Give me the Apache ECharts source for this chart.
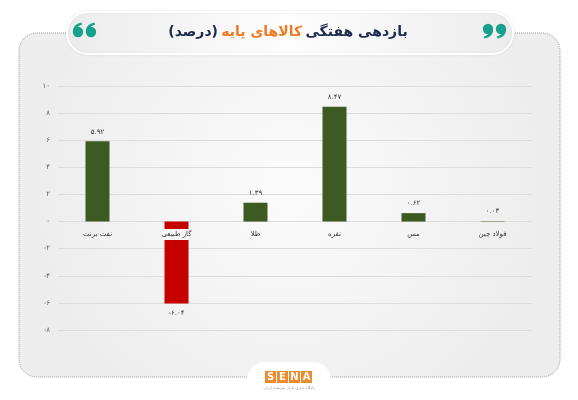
<!DOCTYPE html>
<html>
<head>
<meta charset="utf-8">
<script src="https://cdn.jsdelivr.net/npm/echarts@6/dist/echarts.min.js"></script>
<style>
html,body{margin:0;padding:0;background:#ffffff;}
#chart{width:578px;height:400px;}
</style>
</head>
<body>
<div id="chart"></div>
<script>
var categories = ['نفت برنت', 'گاز طبیعی', 'طلا', 'نقره', 'مس', 'فولاد چین'];
var values = [5.92, -6.04, 1.39, 8.47, 0.62, 0.03];
var yTicks = [-8, -6, -4, -2, 0, 2, 4, 6, 8, 10];

function fa(s) {
  return String(s).replace(/[0-9]/g, function (d) { return '۰۱۲۳۴۵۶۷۸۹'[+d]; });
}
var FONT = 'DejaVu Sans';
var TEAL = '#17a08b';
var chart = echarts.init(document.getElementById('chart'));

var seriesData = values.map(function (v) {
  return {
    value: v,
    itemStyle: { color: v < 0 ? '#c40000' : '#3c5a22' },
    label: { position: v < 0 ? 'bottom' : 'top' }
  };
});
var nameData = categories.map(function (c, i) {
  return {
    value: [c, 0],
    label: values[i] < 0
      ? { backgroundColor: '#f6f6f6', padding: [2, 1, 2, 1], distance: 7, opacity: 1 }
      : {}
  };
});

function quad(p0, p1, p2, n) {
  var pts = [];
  for (var i = 0; i <= n; i++) {
    var t = i / n, a = (1 - t) * (1 - t), b = 2 * (1 - t) * t, c = t * t;
    pts.push([a * p0[0] + b * p1[0] + c * p2[0], a * p0[1] + b * p1[1] + c * p2[1]]);
  }
  return pts;
}
function quoteMark(cx, cy, up) {
  var s = up ? 1 : -1;
  var outer = quad([-5 * s, 0], [-5.6 * s, -7.5 * s], [3.5 * s, -9.5 * s], 10);
  var inner = quad([4 * s, -7.3 * s], [-0.5 * s, -6 * s], [-0.3 * s, -4.6 * s], 8);
  var pts = outer.concat(inner).map(function (p) { return [p[0] + cx, p[1] + cy]; });
  return [
    { type: 'circle', z: 12, silent: true, shape: { cx: cx, cy: cy, r: 5.2 }, style: { fill: TEAL } },
    { type: 'polygon', z: 12, silent: true, shape: { points: pts }, style: { fill: TEAL } }
  ];
}

var graphics = [
  {
    type: 'rect', z: -10, silent: true,
    shape: { x: 19, y: 33, width: 541, height: 344, r: 18 },
    style: {
      fill: { type: 'radial', x: 0.5, y: 0.45, r: 0.75,
        colorStops: [{ offset: 0, color: '#fbfbfb' }, { offset: 1, color: '#ededed' }] },
      stroke: '#9a9a9a', lineWidth: 1, lineDash: [1, 1]
    }
  },
  {
    type: 'rect', z: 10, silent: true,
    shape: { x: 67, y: 12, width: 446, height: 42, r: 21 },
    style: {
      fill: { type: 'linear', x: 0, y: 0, x2: 1, y2: 0,
        colorStops: [{ offset: 0, color: '#ececec' }, { offset: 0.5, color: '#fdfdfd' }, { offset: 1, color: '#ececec' }] },
      stroke: '#ffffff', lineWidth: 2,
      shadowBlur: 3, shadowColor: 'rgba(0,0,0,0.08)'
    }
  },
  {
    type: 'text', z: 11, silent: true,
    style: {
      text: '{n|(درصد)} {o|کالاهای پایه} {n|بازدهی هفتگی}',
      x: 288, y: 32, align: 'center', verticalAlign: 'middle',
      rich: {
        n: { fontFamily: FONT, fontWeight: 'bold', fontSize: 14, fill: '#1d2a4d' },
        o: { fontFamily: FONT, fontWeight: 'bold', fontSize: 14, fill: '#f07a24' }
      }
    }
  },
  {
    type: 'rect', z: 10, silent: true,
    shape: { x: 247, y: 362, width: 84, height: 42, r: 18 },
    style: { fill: '#ffffff' }
  },
  {
    type: 'text', z: 12, silent: true,
    style: { text: 'پایگاه خبری بازار سرمایه ایران', x: 289, y: 388, align: 'center', verticalAlign: 'middle', fill: '#9a9a9a', font: '4px "DejaVu Sans"' }
  }
];
graphics = graphics
  .concat(quoteMark(78, 32, true)).concat(quoteMark(91, 32, true))
  .concat(quoteMark(488, 29, false)).concat(quoteMark(501, 29, false));
['S', 'E', 'N', 'A'].forEach(function (ch, i) {
  graphics.push({ type: 'rect', z: 12, silent: true, shape: { x: 265 + i * 12, y: 371, width: 11, height: 12 }, style: { fill: '#ee8a2c' } });
  graphics.push({ type: 'text', z: 13, silent: true, style: { text: ch, x: 270.5 + i * 12, y: 377.5, align: 'center', verticalAlign: 'middle', fill: '#ffffff', font: 'bold 10px "DejaVu Sans"' } });
});

var option = {
  backgroundColor: '#ffffff',
  animation: false,
  graphic: graphics,
  grid: { left: 58, right: 46, top: 86, bottom: 70 },
  xAxis: {
    type: 'category',
    data: categories,
    axisLine: { show: false },
    axisTick: { show: false },
    axisLabel: { show: false }
  },
  yAxis: {
    type: 'value',
    min: yTicks[0], max: yTicks[yTicks.length - 1], interval: 2,
    axisLine: { show: false },
    axisTick: { show: false },
    splitLine: { lineStyle: { color: '#dcdcdc', width: 1 } },
    axisLabel: {
      margin: 8,
      fontFamily: FONT, fontSize: 7, color: '#555',
      formatter: function (v) { return fa(v); }
    }
  },
  series: [{
    type: 'bar',
    data: seriesData,
    barWidth: 24,
    z: 2,
    label: {
      show: true,
      distance: 6,
      fontFamily: FONT, fontSize: 7, color: '#333',
      formatter: function (p) { return fa(p.value.toFixed(2).replace(/0$/, '')); }
    }
  }, {
    type: 'scatter',
    data: nameData,
    symbol: 'circle',
    symbolSize: 1,
    itemStyle: { color: 'rgba(0,0,0,0)' },
    z: 6,
    silent: true,
    label: {
      show: true,
      position: 'bottom',
      distance: 9,
      opacity: 1,
      fontFamily: FONT, fontSize: 7, color: '#333',
      formatter: function (p) { return categories[p.dataIndex]; }
    }
  }]
};
chart.setOption(option);
</script>
</body>
</html>
